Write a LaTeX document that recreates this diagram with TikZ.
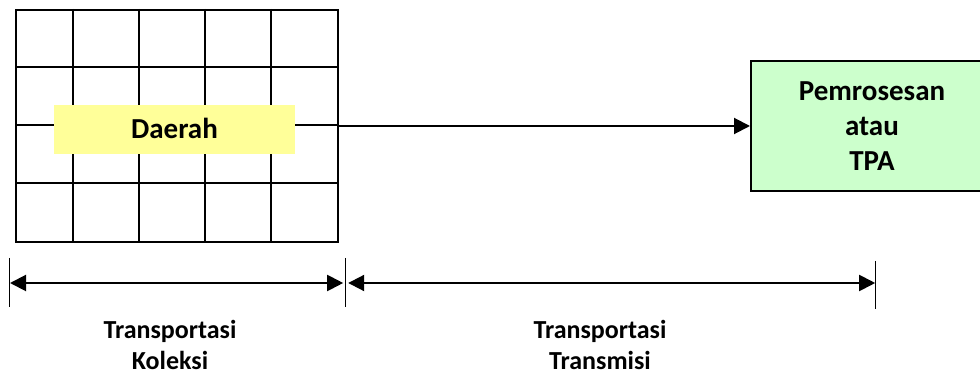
\documentclass[tikz,border=0pt]{standalone}
\usepackage{fontspec}
\setmainfont{Carlito}
\usetikzlibrary{arrows.meta,positioning}

\definecolor{daerahfill}{HTML}{FFFF99}
\definecolor{tpafill}{HTML}{CCFFCC}

\begin{document}
\begin{tikzpicture}[x=1pt,y=-1pt,
                    every node/.style={font=\bfseries\fontsize{29}{35}\selectfont},
                    every path/.style={line width=2pt},
                    lbl/.style={anchor=base,font=\bfseries\fontsize{26}{32}\selectfont},
                    >={Triangle[length=16pt,width=16pt]}]

\useasboundingbox (0,0) rectangle (980,379);

% daerah (grid)
\node[draw,minimum width=322pt,minimum height=232pt,inner sep=0pt] (area) at (177,126) {};
\foreach \i in {58,124,190,256}
  \draw ([xshift=\i pt]area.north west) -- ([xshift=\i pt]area.south west);
\foreach \j in {1,2,3}
  \draw ([yshift=-\j*58pt]area.north west) -- ([yshift=-\j*58pt]area.north east);

\node[fill=daerahfill,minimum width=241pt,minimum height=49pt,inner sep=0pt,
      text height=19pt,text depth=-4pt] (daerah) at (174.5,129.5) {Daerah};

\node[draw,fill=tpafill,align=center,minimum width=242pt,minimum height=130pt] (tpa)
  at (872,126) {Pemrosesan\\atau\\TPA};

\draw[->] (area.east) -- (tpa.west);

% jarak
\coordinate (k0) at (9.5,283);
\coordinate (k1) at (345.7,283);
\coordinate (k2) at (875.7,283);
\draw[line width=1.3pt] ([yshift=25pt]k0) -- ([yshift=-24pt]k0);
\draw[line width=1.3pt] ([yshift=25pt]k1) -- ([yshift=-24pt]k1);
\draw[line width=1.3pt] ([yshift=22pt]k2) -- ([yshift=-26pt]k2);
\draw[<->,shorten <=0.5pt,shorten >=2.5pt] (k0) -- (k1);
\draw[<->,shorten <=2.5pt,shorten >=0.5pt] (k1) -- (k2);

\node[lbl] (kol1) at (170,338) {Transportasi};
\node[lbl] (kol2) at (170,370) {Koleksi};
\node[lbl] (tra1) at (600,338) {Transportasi};
\node[lbl] (tra2) at (600,370) {Transmisi};

\end{tikzpicture}
\end{document}
